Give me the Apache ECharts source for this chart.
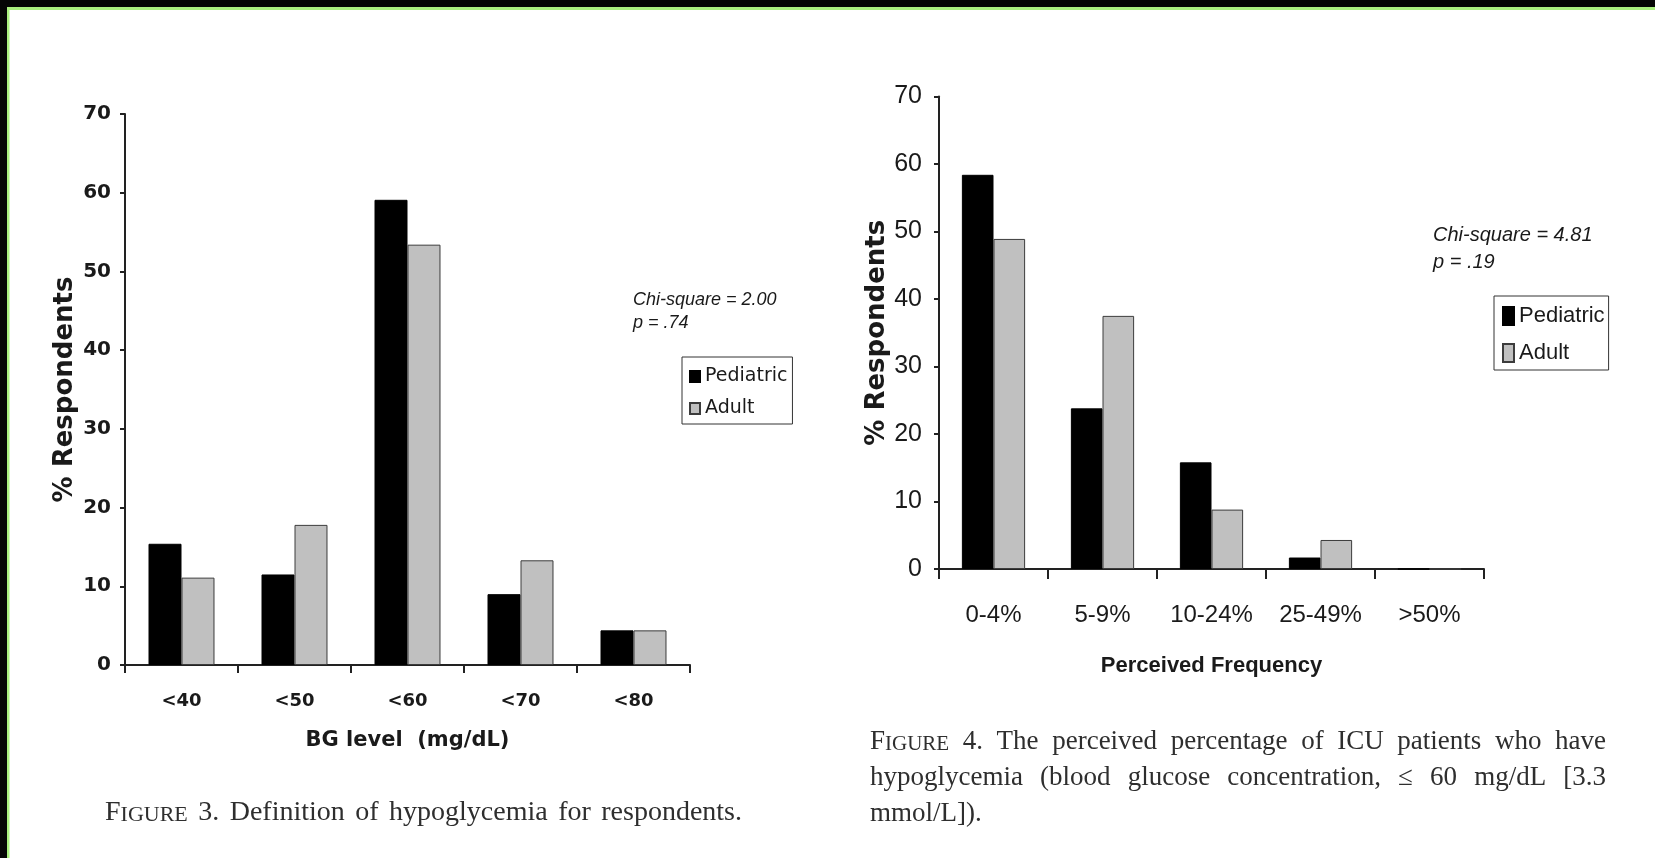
<!DOCTYPE html>
<html>
<head>
<meta charset="utf-8">
<title>Hypoglycemia survey figures</title>
<script src="https://cdn.jsdelivr.net/npm/echarts@6/dist/echarts.min.js"></script>
<style>
  html, body { margin: 0; padding: 0; background: #fff; }
  #chart { width: 1655px; height: 858px; }
</style>
</head>
<body>
<div id="chart"></div>
<script>
// Figure 3: definition of hypoglycemia (BG threshold, mg/dL)
const bgCategories = ['<40', '<50', '<60', '<70', '<80'];
const bgPediatric = [15.4, 11.5, 59.1, 9.0, 4.4];
const bgAdult = [11.1, 17.8, 53.4, 13.3, 4.4];

// Figure 4: perceived frequency of hypoglycemia among ICU patients
const freqCategories = ['0-4%', '5-9%', '10-24%', '25-49%', '>50%'];
const freqPediatric = [58.4, 23.8, 15.8, 1.7, 0];
const freqAdult = [48.9, 37.5, 8.8, 4.3, 0];

// Shared value axis range
const yMin = 0;
const yMax = 70;
const yStep = 10;

const seriesNames = ['Pediatric', 'Adult'];
const statsLeft = ['Chi-square = 2.00', 'p = .74'];
const statsRight = ['Chi-square = 4.81', 'p = .19'];
const caption3Words = ['FIGURE', '3.', 'Definition', 'of', 'hypoglycemia', 'for', 'respondents.'];
const caption4Lines = [
  ['FIGURE', '4.', 'The', 'perceived', 'percentage', 'of', 'ICU', 'patients', 'who', 'have'],
  ['hypoglycemia', '(blood', 'glucose', 'concentration,', '\u2264', '60', 'mg/dL', '[3.3'],
  ['mmol/L]).']
];

const VERDANA = "'DejaVu Sans', Verdana, sans-serif";
const ARIAL = "'Liberation Sans', Arial, sans-serif";
const SERIF = "'Liberation Serif', 'DejaVu Serif', serif";
const INK = '#1a1a1a';
const AXIS = '#222';
const PED = '#000000';
const ADU = '#c0c0c0';

const chart = echarts.init(document.getElementById('chart'), null, { renderer: 'canvas' });

function valueAxis(gridIndex, labelFont, labelSize, labelWeight, margin, nameFont, nameSize, nameGap) {
  return {
    type: 'value', gridIndex: gridIndex, min: yMin, max: yMax, interval: yStep,
    name: '% Respondents', nameLocation: 'middle', nameGap: nameGap,
    nameTextStyle: { fontFamily: nameFont, fontSize: nameSize, fontWeight: 'bold', color: INK },
    axisLine: { show: true, lineStyle: { color: AXIS, width: 2 } },
    axisTick: { show: true, length: 5, lineStyle: { color: AXIS, width: 2 } },
    splitLine: { show: false },
    axisLabel: { fontFamily: labelFont, fontSize: labelSize, fontWeight: labelWeight, color: INK, margin: margin }
  };
}

function catAxis(gridIndex, data, name, labelFont, labelSize, labelWeight, margin, nameFont, nameSize, nameGap, tickLen) {
  return {
    type: 'category', gridIndex: gridIndex, data: data, boundaryGap: true,
    name: name, nameLocation: 'middle', nameGap: nameGap,
    nameTextStyle: { fontFamily: nameFont, fontSize: nameSize, fontWeight: 'bold', color: INK },
    axisLine: { show: true, lineStyle: { color: AXIS, width: 2 } },
    axisTick: { show: true, length: tickLen, interval: 0, lineStyle: { color: AXIS, width: 2 } },
    axisLabel: { fontFamily: labelFont, fontSize: labelSize, fontWeight: labelWeight, color: INK, margin: margin, interval: 0 }
  };
}

function barSeries(name, axisIdx, data, gap) {
  const isPed = name === 'Pediatric';
  return {
    type: 'bar', name: name, xAxisIndex: axisIdx, yAxisIndex: axisIdx, data: data,
    barGap: '0%', barCategoryGap: gap,
    itemStyle: { color: isPed ? PED : ADU, borderColor: isPed ? '#000' : '#3c3c3c', borderWidth: 1 },
    emphasis: { disabled: true }
  };
}

// --- caption layout helpers (word placement with justification) ---
const measureCtx = document.createElement('canvas').getContext('2d');
const CAP = 27;
const SMALLCAP = 21;
function fontStr(size) { return size + 'px ' + SERIF; }
function textW(size, t) { measureCtx.font = fontStr(size); return measureCtx.measureText(t).width; }
function wordW(w, size) {
  if (w === 'FIGURE') return textW(size, 'F') + textW(Math.round(size * SMALLCAP / CAP), 'IGURE');
  return textW(size, w);
}
function wordEls(w, x, baseline, size) {
  const mk = (t, s, xx) => ({
    type: 'text', x: xx, y: baseline + 0.216 * s, silent: true,
    style: { text: t, fontFamily: SERIF, fontSize: s, fill: '#2e2e2e', verticalAlign: 'bottom', align: 'left' }
  });
  if (w === 'FIGURE') {
    return [mk('F', size, x), mk('IGURE', Math.round(size * SMALLCAP / CAP), x + textW(size, 'F'))];
  }
  return [mk(w, size, x)];
}
function layoutLine(words, x0, x1, baseline, justify, size) {
  const widths = words.map(w => wordW(w, size));
  const total = widths.reduce((a, b) => a + b, 0);
  const space = (justify && words.length > 1) ? (x1 - x0 - total) / (words.length - 1) : textW(size, ' ');
  let x = x0;
  let els = [];
  words.forEach((w, i) => {
    els = els.concat(wordEls(w, x, baseline, size));
    x += widths[i] + space;
  });
  return els;
}

const captionEls = []
  .concat(layoutLine(caption3Words, 105, 742, 821, true, 28))
  .concat(layoutLine(caption4Lines[0], 870, 1606, 750, true, CAP))
  .concat(layoutLine(caption4Lines[1], 870, 1606, 786, true, CAP))
  .concat(layoutLine(caption4Lines[2], 870, 1606, 822, false, CAP));

function statText(lines, x, y0, y1, size) {
  return lines.map((t, i) => ({
    type: 'text', x: x, y: i === 0 ? y0 : y1, silent: true,
    style: { text: t, fontFamily: ARIAL, fontStyle: 'italic', fontSize: size, fill: INK, verticalAlign: 'middle', align: 'left' }
  }));
}

const frameEls = [
  { type: 'rect', shape: { x: 0, y: 0, width: 1655, height: 7 }, style: { fill: '#050505' }, silent: true },
  { type: 'rect', shape: { x: 0, y: 0, width: 7, height: 858 }, style: { fill: '#050505' }, silent: true },
  { type: 'rect', shape: { x: 7, y: 7, width: 1648, height: 3 }, style: { fill: '#aaf07f' }, silent: true },
  { type: 'rect', shape: { x: 7, y: 7, width: 2.5, height: 851 }, style: { fill: '#aaf07f' }, silent: true }
];

const option = {
  animation: false,
  backgroundColor: '#ffffff',
  grid: [
    { left: 125, top: 114, width: 565, height: 551, containLabel: false },
    { left: 939, top: 96.5, width: 545, height: 472.5, containLabel: false }
  ],
  xAxis: [
    catAxis(0, bgCategories, 'BG level  (mg/dL)', VERDANA, 18, 'bold', 27, VERDANA, 21, 65, 8),
    catAxis(1, freqCategories, 'Perceived Frequency', ARIAL, 24, 'normal', 34, ARIAL, 22, 86, 10)
  ],
  yAxis: [
    valueAxis(0, VERDANA, 20, 'bold', 14, VERDANA, 26, 47),
    valueAxis(1, ARIAL, 25, 'normal', 17, VERDANA, 26, 43)
  ],
  legend: [
    {
      data: seriesNames, orient: 'vertical', left: 682, top: 357,
      padding: [10, 5, 6, 7], itemWidth: 10, itemHeight: 11, itemGap: 13,
      borderColor: '#333', borderWidth: 1, backgroundColor: '#fff',
      icon: 'rect', selectedMode: false,
      textStyle: { fontFamily: VERDANA, fontSize: 19, color: INK }
    },
    {
      data: seriesNames, orient: 'vertical', left: 1494, top: 296,
      padding: [9, 4, 6, 8], itemWidth: 11, itemHeight: 18, itemGap: 15,
      borderColor: '#333', borderWidth: 1, backgroundColor: '#fff',
      icon: 'rect', selectedMode: false,
      textStyle: { fontFamily: ARIAL, fontSize: 22, color: INK }
    }
  ],
  series: [
    barSeries('Pediatric', 0, bgPediatric, '41.6%'),
    barSeries('Adult', 0, bgAdult, '41.6%'),
    barSeries('Pediatric', 1, freqPediatric, '42%'),
    barSeries('Adult', 1, freqAdult, '42%')
  ],
  graphic: [].concat(
    frameEls,
    statText(statsLeft, 633, 300, 323, 18),
    statText(statsRight, 1433, 235, 262, 20),
    captionEls
  )
};

chart.setOption(option);
</script>
</body>
</html>
